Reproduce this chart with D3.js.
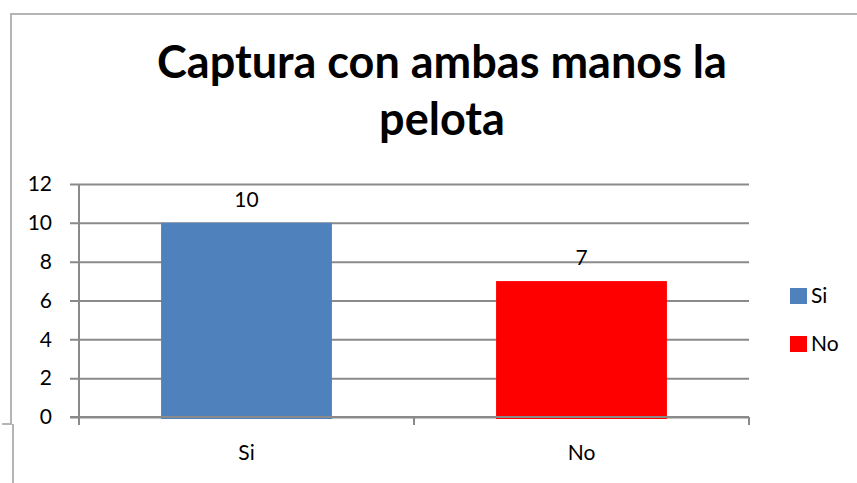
<!DOCTYPE html>
<html>
<head>
<meta charset="utf-8">
<script src="https://cdn.jsdelivr.net/npm/d3@7"></script>
<style>
  body { margin: 0; background: #fff; }
  svg { display: block; font-family: Lato, "Open Sans", sans-serif; }
</style>
</head>
<body>
<svg id="chart" width="857" height="483"></svg>
<script>
const categories = ["Si", "No"];
const values = [10, 7];
const colors = ["#4F81BD", "#FF0000"];
const yTicks = [0, 2, 4, 6, 8, 10, 12];
const titleLines = ["Captura con ambas manos la", "pelota"];

const svg = d3.select("#chart");
const frame = { left: 79, right: 749, top: 184, bottom: 417 };
const axisColor = "#8a8a8a";

// outer border of the chart object
svg.append("path")
  .attr("d", "M857,14 H11 V424 H2 M13,424 V483")
  .attr("fill", "none")
  .attr("stroke", "#b4b4b4")
  .attr("stroke-width", 2);

// title, sized to the width of the original first line
const title = svg.append("g").attr("font-weight", "bold").attr("fill", "#000");
const t1 = title.append("text")
  .attr("x", 442).attr("y", 78)
  .attr("text-anchor", "middle")
  .attr("font-size", 40)
  .text(titleLines[0]);
const fs = 40 * 570 / t1.node().getComputedTextLength();
t1.attr("font-size", fs);
title.append("text")
  .attr("x", 442).attr("y", 135)
  .attr("text-anchor", "middle")
  .attr("font-size", fs)
  .text(titleLines[1]);

const x = d3.scaleBand(categories, [frame.left, frame.right])
  .paddingInner(0.49)
  .paddingOuter(0.245);
const y = d3.scaleLinear([0, 12], [frame.bottom, frame.top]);

// grid lines with left tick marks
svg.append("g")
  .attr("transform", `translate(${frame.left},0)`)
  .call(d3.axisLeft(y).tickValues(yTicks).tickSize(9).tickPadding(18))
  .call((g) => g.select(".domain").remove())
  .call((g) => g.selectAll(".tick line")
    .attr("x2", frame.right - frame.left)
    .attr("x1", -9)
    .attr("stroke", axisColor)
    .attr("stroke-width", 2))
  .call((g) => g.selectAll(".tick text")
    .attr("font-size", 21)
    .attr("font-family", "Lato, sans-serif")
    .attr("fill", "#000"));

// bars
svg.append("g")
  .selectAll(".bar")
  .data(categories)
  .join("rect")
  .attr("class", "bar")
  .attr("x", (d) => x(d))
  .attr("width", x.bandwidth())
  .attr("y", (d, i) => y(values[i]))
  .attr("height", (d, i) => y(0) - y(values[i]) + 2)
  .attr("fill", (d, i) => colors[i]);

// value labels
svg.append("g")
  .selectAll(".value")
  .data(categories)
  .join("text")
  .attr("class", "value")
  .attr("x", (d) => x(d) + x.bandwidth() / 2)
  .attr("y", (d, i) => y(values[i]) - 16)
  .attr("text-anchor", "middle")
  .attr("font-size", 21)
  .attr("fill", "#000")
  .text((d, i) => values[i]);

// axis lines
svg.append("line")
  .attr("x1", frame.left).attr("x2", frame.left)
  .attr("y1", frame.top).attr("y2", frame.bottom + 8)
  .attr("stroke", axisColor).attr("stroke-width", 2);
svg.append("line")
  .attr("x1", frame.left - 9).attr("x2", frame.right)
  .attr("y1", frame.bottom).attr("y2", frame.bottom)
  .attr("stroke", axisColor).attr("stroke-width", 2);
// category tick marks sit between the bands
svg.append("g")
  .selectAll("line")
  .data([frame.left, (x("Si") + x.bandwidth() + x("No")) / 2, frame.right])
  .join("line")
  .attr("x1", (d) => d).attr("x2", (d) => d)
  .attr("y1", frame.bottom).attr("y2", frame.bottom + 8)
  .attr("stroke", axisColor).attr("stroke-width", 2);

// category labels
svg.append("g")
  .selectAll(".cat")
  .data(categories)
  .join("text")
  .attr("class", "cat")
  .attr("x", (d) => x(d) + x.bandwidth() / 2)
  .attr("y", 460)
  .attr("text-anchor", "middle")
  .attr("font-size", 21)
  .attr("fill", "#000")
  .text((d) => d);

// legend
const legend = svg.append("g")
  .selectAll(".leg")
  .data(categories)
  .join("g")
  .attr("class", "leg")
  .attr("transform", (d, i) => `translate(790,${288 + i * 48})`);
legend.append("rect")
  .attr("width", 17).attr("height", 16)
  .attr("fill", (d, i) => colors[i]);
legend.append("text")
  .attr("x", 21).attr("y", 15)
  .attr("font-size", 21)
  .attr("fill", "#000")
  .text((d) => d);
</script>
</body>
</html>
